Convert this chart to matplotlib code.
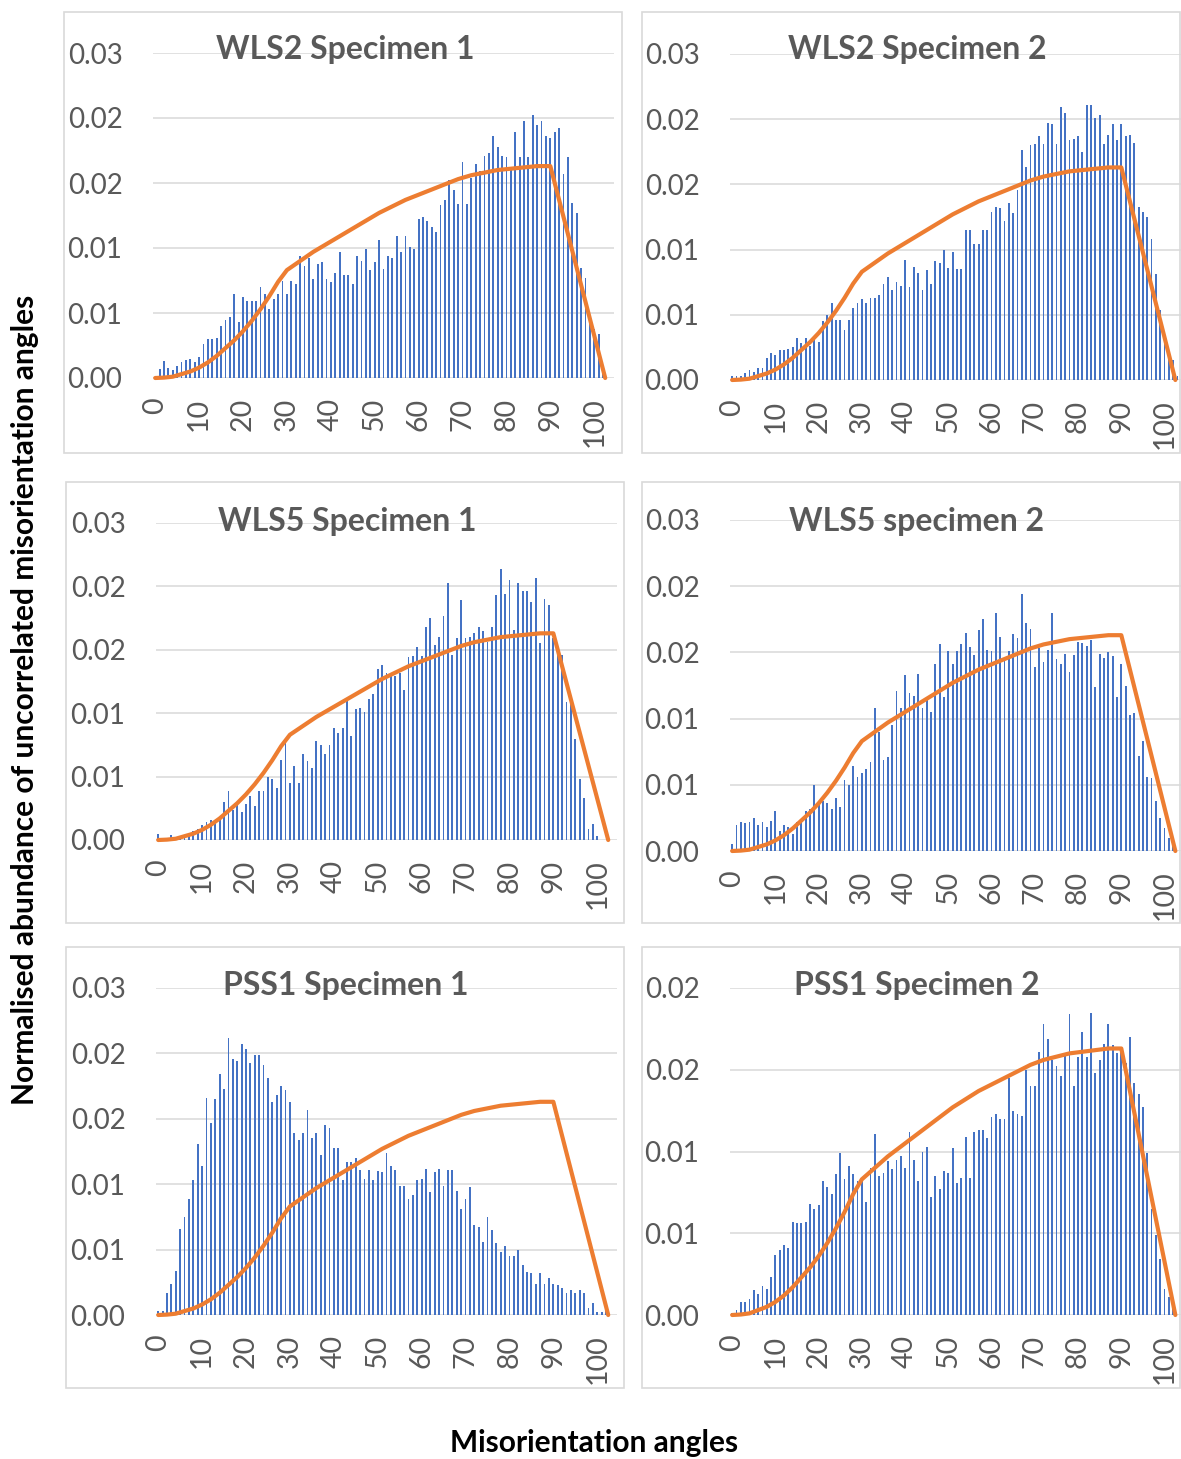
import numpy as np
import matplotlib
matplotlib.use("Agg")
import matplotlib.pyplot as plt
from matplotlib.patches import Rectangle

# ---------------- data ----------------
titles = ["WLS2 Specimen 1", "WLS2 Specimen 2", "WLS5 Specimen 1",
          "WLS5 specimen 2", "PSS1 Specimen 1", "PSS1 Specimen 2"]

wls2_s1 = [0.0001, 0.0007, 0.0013, 0.0008, 0.0006, 0.0009, 0.0012, 0.0014, 0.0015, 0.0012,
           0.0016, 0.0026, 0.0030, 0.0030, 0.0031, 0.0040, 0.0045, 0.0047, 0.0065, 0.0043,
           0.0062, 0.0059, 0.0059, 0.0059, 0.0070, 0.0065, 0.0053, 0.0061, 0.0065, 0.0075,
           0.0065, 0.0075, 0.0072, 0.0094, 0.0086, 0.0092, 0.0076, 0.0088, 0.0089, 0.0076,
           0.0074, 0.0081, 0.0097, 0.0079, 0.0079, 0.0072, 0.0094, 0.0090, 0.0099, 0.0083,
           0.0089, 0.0106, 0.0084, 0.0094, 0.0092, 0.0109, 0.0097, 0.0109, 0.0101, 0.0099,
           0.0122, 0.0124, 0.0121, 0.0116, 0.0112, 0.0133, 0.0137, 0.0152, 0.0145, 0.0134,
           0.0166, 0.0134, 0.0154, 0.0165, 0.0159, 0.0171, 0.0173, 0.0186, 0.0178, 0.0171,
           0.0170, 0.0162, 0.0189, 0.0170, 0.0198, 0.0170, 0.0202, 0.0195, 0.0198, 0.0186,
           0.0185, 0.0189, 0.0192, 0.0157, 0.0170, 0.0135, 0.0127, 0.0085, 0.0077, 0.0045,
           0.0038, 0.0034, 0.0008]

wls2_s2 = [0.0003, 0.0003, 0.0003, 0.0005, 0.0008, 0.0006, 0.0009, 0.0009, 0.0017, 0.0021,
           0.0019, 0.0023, 0.0023, 0.0024, 0.0025, 0.0032, 0.0028, 0.0032, 0.0026, 0.0032,
           0.0029, 0.0045, 0.0050, 0.0059, 0.0046, 0.0046, 0.0038, 0.0046, 0.0055, 0.0059,
           0.0062, 0.0059, 0.0063, 0.0063, 0.0065, 0.0074, 0.0079, 0.0069, 0.0075, 0.0072,
           0.0092, 0.0071, 0.0087, 0.0082, 0.0069, 0.0084, 0.0074, 0.0091, 0.0090, 0.0100,
           0.0086, 0.0098, 0.0085, 0.0085, 0.0115, 0.0115, 0.0104, 0.0104, 0.0115, 0.0115,
           0.0129, 0.0133, 0.0132, 0.0122, 0.0136, 0.0128, 0.0146, 0.0176, 0.0163, 0.0180,
           0.0181, 0.0187, 0.0181, 0.0197, 0.0196, 0.0181, 0.0209, 0.0205, 0.0184, 0.0185,
           0.0187, 0.0175, 0.0211, 0.0211, 0.0201, 0.0203, 0.0181, 0.0188, 0.0196, 0.0184,
           0.0196, 0.0187, 0.0188, 0.0182, 0.0133, 0.0129, 0.0125, 0.0108, 0.0081, 0.0054,
           0.0031, 0.0018, 0.0015, 0.0003]

wls5_s1 = [0.0005, 0.0001, 0.0001, 0.0004, 0.0002, 0.0002, 0.0003, 0.0004, 0.0007, 0.0009,
           0.0012, 0.0014, 0.0016, 0.0016, 0.0016, 0.0030, 0.0039, 0.0024, 0.0029, 0.0022,
           0.0028, 0.0035, 0.0027, 0.0039, 0.0039, 0.0050, 0.0048, 0.0041, 0.0063, 0.0078,
           0.0045, 0.0058, 0.0045, 0.0068, 0.0062, 0.0057, 0.0078, 0.0075, 0.0068, 0.0075,
           0.0088, 0.0084, 0.0088, 0.0111, 0.0082, 0.0103, 0.0104, 0.0101, 0.0111, 0.0115,
           0.0135, 0.0138, 0.0132, 0.0129, 0.0129, 0.0132, 0.0118, 0.0144, 0.0145, 0.0152,
           0.0145, 0.0168, 0.0175, 0.0154, 0.0160, 0.0177, 0.0203, 0.0146, 0.0159, 0.0189,
           0.0159, 0.0160, 0.0163, 0.0168, 0.0165, 0.0156, 0.0168, 0.0193, 0.0214, 0.0194,
           0.0205, 0.0166, 0.0203, 0.0196, 0.0196, 0.0188, 0.0207, 0.0155, 0.0190, 0.0185,
           0.0159, 0.0152, 0.0146, 0.0109, 0.0108, 0.0080, 0.0048, 0.0033, 0.0009, 0.0013,
           0.0003, 0.0000]

wls5_s2 = [0.0005, 0.0020, 0.0022, 0.0021, 0.0022, 0.0025, 0.0020, 0.0022, 0.0018, 0.0023,
           0.0030, 0.0015, 0.0020, 0.0018, 0.0013, 0.0022, 0.0023, 0.0030, 0.0032, 0.0050,
           0.0037, 0.0038, 0.0036, 0.0032, 0.0040, 0.0033, 0.0054, 0.0050, 0.0064, 0.0056,
           0.0059, 0.0062, 0.0067, 0.0108, 0.0090, 0.0069, 0.0071, 0.0095, 0.0121, 0.0108,
           0.0133, 0.0119, 0.0117, 0.0134, 0.0108, 0.0115, 0.0105, 0.0141, 0.0156, 0.0116,
           0.0151, 0.0141, 0.0151, 0.0156, 0.0165, 0.0154, 0.0148, 0.0167, 0.0175, 0.0152,
           0.0151, 0.0180, 0.0162, 0.0146, 0.0151, 0.0164, 0.0161, 0.0194, 0.0172, 0.0168,
           0.0139, 0.0153, 0.0143, 0.0152, 0.0180, 0.0145, 0.0141, 0.0149, 0.0135, 0.0148,
           0.0158, 0.0157, 0.0155, 0.0159, 0.0124, 0.0149, 0.0146, 0.0150, 0.0147, 0.0116,
           0.0141, 0.0125, 0.0103, 0.0104, 0.0072, 0.0083, 0.0056, 0.0055, 0.0038, 0.0025,
           0.0017, 0.0010, 0.0004]

pss1_s1 = [0.0003, 0.0003, 0.0017, 0.0024, 0.0034, 0.0066, 0.0075, 0.0089, 0.0103, 0.0131,
           0.0114, 0.0166, 0.0147, 0.0165, 0.0184, 0.0173, 0.0212, 0.0196, 0.0194, 0.0207,
           0.0203, 0.0193, 0.0199, 0.0199, 0.0191, 0.0181, 0.0163, 0.0168, 0.0175, 0.0172,
           0.0163, 0.0139, 0.0134, 0.0139, 0.0157, 0.0135, 0.0139, 0.0122, 0.0145, 0.0143,
           0.0128, 0.0128, 0.0103, 0.0117, 0.0117, 0.0120, 0.0111, 0.0104, 0.0111, 0.0103,
           0.0110, 0.0109, 0.0124, 0.0114, 0.0111, 0.0099, 0.0099, 0.0089, 0.0092, 0.0103,
           0.0104, 0.0112, 0.0094, 0.0109, 0.0112, 0.0099, 0.0111, 0.0111, 0.0095, 0.0081,
           0.0089, 0.0098, 0.0069, 0.0067, 0.0056, 0.0075, 0.0065, 0.0055, 0.0048, 0.0053,
           0.0045, 0.0045, 0.0050, 0.0038, 0.0033, 0.0032, 0.0024, 0.0032, 0.0024, 0.0028,
           0.0024, 0.0023, 0.0021, 0.0017, 0.0019, 0.0017, 0.0019, 0.0017, 0.0005, 0.0009,
           0.0002, 0.0002, 0.0003]

pss1_s2 = [0.0001, 0.0003, 0.0008, 0.0008, 0.0010, 0.0015, 0.0013, 0.0018, 0.0016, 0.0023,
           0.0037, 0.0040, 0.0043, 0.0041, 0.0057, 0.0056, 0.0056, 0.0057, 0.0068, 0.0065,
           0.0067, 0.0082, 0.0078, 0.0074, 0.0086, 0.0099, 0.0083, 0.0091, 0.0086, 0.0082,
           0.0083, 0.0069, 0.0090, 0.0111, 0.0085, 0.0087, 0.0094, 0.0089, 0.0095, 0.0097,
           0.0090, 0.0112, 0.0095, 0.0082, 0.0100, 0.0103, 0.0072, 0.0085, 0.0077, 0.0088,
           0.0087, 0.0102, 0.0081, 0.0084, 0.0109, 0.0084, 0.0112, 0.0113, 0.0113, 0.0108,
           0.0121, 0.0123, 0.0120, 0.0120, 0.0145, 0.0125, 0.0123, 0.0122, 0.0150, 0.0140,
           0.0140, 0.0161, 0.0178, 0.0169, 0.0156, 0.0152, 0.0146, 0.0159, 0.0184, 0.0140,
           0.0158, 0.0173, 0.0158, 0.0185, 0.0148, 0.0156, 0.0166, 0.0178, 0.0165, 0.0160,
           0.0162, 0.0154, 0.0170, 0.0142, 0.0135, 0.0127, 0.0099, 0.0065, 0.0049, 0.0034,
           0.0016, 0.0011, 0.0005]

# theoretical (random) distribution curve, same in every panel
curve_angle = [0, 2, 4, 6, 8, 10, 12, 14, 16, 18, 20, 22, 24, 26, 28, 30, 33, 36, 39,
               42, 45, 48, 51, 54, 57, 60, 63, 66, 69, 72, 75, 78, 81, 84, 87, 90, 102.5]
curve_value = [0.0000, 0.00003, 0.0001, 0.0003, 0.0005, 0.0008, 0.0012, 0.0017, 0.0023,
               0.0029, 0.0036, 0.0044, 0.0053, 0.0063, 0.0074, 0.0083, 0.0090, 0.0097,
               0.0103, 0.0109, 0.0115, 0.0121, 0.0127, 0.0132, 0.0137, 0.0141, 0.0145,
               0.0149, 0.0153, 0.0156, 0.0158, 0.0160, 0.0161, 0.0162, 0.0163, 0.0163,
               0.0000]

series = [wls2_s1, wls2_s2, wls5_s1, wls5_s2, pss1_s1, pss1_s2]
y_max = [0.025, 0.025, 0.025, 0.025, 0.025, 0.020]
ytick_vals = [0.0, 0.005, 0.010, 0.015, 0.020, 0.025]
ytick_labels = ["0.00", "0.01", "0.01", "0.02", "0.02", "0.03"]
xtick_vals = [0, 10, 20, 30, 40, 50, 60, 70, 80, 90, 100]

# ---------------- layout ----------------
W, H = 1181, 1459
fig = plt.figure(figsize=(W / 100, H / 100), dpi=100)
fig.patch.set_facecolor("white")

FONT = ["Lato", "DejaVu Sans"]
GREY = "#595959"
BLUE = "#4472C4"
ORANGE = "#ED7D31"
GRID = "#D9D9D9"

# plot-area boxes (left, right, top, bottom) in pixels
plot_boxes = [(153, 614, 53, 378), (730, 1184, 54, 380),
              (156, 617, 523, 840), (730, 1184, 520, 851),
              (156, 617, 988, 1315), (730, 1184, 988, 1315)]
# chart-area borders (left, top, right, bottom) in pixels
chart_boxes = [(64, 12, 622, 453), (642, 12, 1180, 453),
               (66, 482, 624, 923), (642, 482, 1180, 923),
               (66, 947, 624, 1388), (642, 947, 1180, 1388)]
title_pos = [(345, 50), (917, 50), (347, 521), (917, 521), (346, 986), (917, 986)]

for (l, t, r, b) in chart_boxes:
    fig.patches.append(Rectangle((l / W, 1 - b / H), (r - l) / W, (b - t) / H,
                                 transform=fig.transFigure, fill=False,
                                 edgecolor=GRID, linewidth=1.2, zorder=0))

for i, vals in enumerate(series):
    l, r, t, b = plot_boxes[i]
    ax = fig.add_axes([l / W, 1 - b / H, (r - l) / W, (b - t) / H])
    ax.set_facecolor("none")
    x = np.arange(len(vals))
    ax.bar(x, vals, width=0.42, color=BLUE, linewidth=0, zorder=2)
    ax.plot(curve_angle, curve_value, color=ORANGE, linewidth=3.0,
            solid_joinstyle="round", solid_capstyle="round", zorder=3, clip_on=False)
    ax.set_xlim(-0.5, 104.5)
    ax.set_ylim(0, y_max[i])
    n = 6 if y_max[i] > 0.022 else 5
    ax.set_yticks(ytick_vals[:n])
    ax.set_yticklabels(ytick_labels[:n])
    ax.set_xticks(xtick_vals)
    ax.set_xticklabels([str(v) for v in xtick_vals], rotation=90)
    ax.grid(axis="y", color=GRID, linewidth=1.1, zorder=0)
    ax.set_axisbelow(True)
    for s in ax.spines.values():
        s.set_visible(False)
    ax.tick_params(axis="both", length=0, colors=GREY)
    ax.tick_params(axis="y", pad=22)
    ax.tick_params(axis="x", pad=14)
    for lab in ax.get_yticklabels():
        lab.set_fontfamily(FONT)
        lab.set_fontsize(20)
        lab.set_color(GREY)
    for lab in ax.get_xticklabels():
        lab.set_fontfamily(FONT)
        lab.set_fontsize(20.5)
        lab.set_color(GREY)
    tx, ty = title_pos[i]
    fig.text(tx / W, 1 - ty / H, titles[i], ha="center", va="center",
             fontsize=23, fontweight="bold", color=GREY, family=FONT, zorder=5)

fig.text(25 / W, 1 - 700 / H, "Normalised abundance of uncorrelated misorientation angles",
         rotation=90, ha="center", va="center", fontsize=21.5, fontweight="bold",
         color="black", family=FONT)
fig.text(594 / W, 1 - 1443 / H, "Misorientation angles", ha="center", va="center",
         fontsize=21.5, fontweight="bold", color="black", family=FONT)

fig.savefig("out.png", dpi=100, facecolor="white")
